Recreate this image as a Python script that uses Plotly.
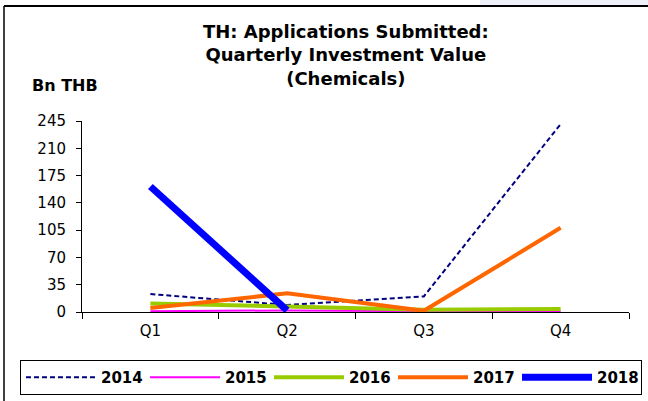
import plotly.graph_objects as go

quarters = ["Q1", "Q2", "Q3", "Q4"]
v2014 = [23, 9, 20, 241]
v2015 = [1, 2, 1, 1]
v2016 = [11, 7, 3, 4]
v2017 = [5, 24, 1.5, 108]
v2018 = [161, 2, None, None]
y_ticks = [0, 35, 70, 105, 140, 175, 210, 245]

W, H = 648, 401
L, R, T, B = 82, 19, 121, 89
pw, ph = W - L - R, H - T - B
FONT = "DejaVu Sans, Arial, sans-serif"


def px2x(p):
    return (p - L) / pw


def py2y(p):
    return (H - B - p) / ph


fig = go.Figure()
series = [
    ("2014", v2014, dict(color="#000080", width=2, dash="5px,3px")),
    ("2015", v2015, dict(color="#FF00FF", width=2)),
    ("2016", v2016, dict(color="#99CC00", width=4)),
    ("2017", v2017, dict(color="#FF6600", width=4)),
    ("2018", v2018, dict(color="#0000FF", width=7)),
]
for name, vals, line in series:
    fig.add_trace(go.Scatter(x=quarters, y=vals, name=name, mode="lines", line=line))

fig.update_layout(
    width=W, height=H,
    margin=dict(l=L, r=R, t=T, b=B, autoexpand=False),
    paper_bgcolor="white", plot_bgcolor="white",
    font=dict(family=FONT, size=15, color="black"),
    showlegend=True,
    legend=dict(
        orientation="h", x=px2x(20), xanchor="left", y=py2y(360), yanchor="top",
        bordercolor="black", borderwidth=1,
        font=dict(size=15, family=FONT, weight="bold"),
        entrywidth=39, itemwidth=70, traceorder="normal",
    ),
    xaxis=dict(
        type="category", showgrid=False, showline=True, linecolor="black", linewidth=1,
        ticks="outside", tickson="boundaries", ticklen=6, tickcolor="black",
        range=[-0.5, 3.5], zeroline=False, tickfont=dict(size=15), ticklabelstandoff=5,
    ),
    yaxis=dict(
        range=[0, 245], tickvals=y_ticks, showgrid=False, showline=True, linecolor="black",
        linewidth=1, ticks="outside", ticklen=5, tickcolor="black", zeroline=False,
        tickfont=dict(size=15), ticklabelstandoff=7,
    ),
)

fig.add_annotation(
    text="TH: Applications Submitted:<br>Quarterly Investment Value<br>(Chemicals)",
    xref="paper", yref="paper", x=px2x(346), y=py2y(55), xanchor="center", yanchor="middle",
    showarrow=False, font=dict(size=18, weight="bold"),
)
fig.add_annotation(
    text="Bn THB", xref="paper", yref="paper", x=px2x(30), y=py2y(85),
    xanchor="left", yanchor="middle", showarrow=False, font=dict(size=16, weight="bold"),
)
# faint strip at top right
fig.add_shape(type="rect", xref="paper", yref="paper", x0=px2x(480), x1=px2x(648),
              y0=py2y(5), y1=py2y(0), line=dict(width=0), fillcolor="#eef0f8", layer="below")
# outer frame lines
fig.add_shape(type="line", xref="paper", yref="paper", x0=px2x(4), x1=px2x(648),
              y0=py2y(6), y1=py2y(6), line=dict(color="black", width=2))
fig.add_shape(type="line", xref="paper", yref="paper", x0=px2x(4), x1=px2x(4),
              y0=py2y(6), y1=py2y(401), line=dict(color="black", width=1.5))

fig.write_html("out.html", config={"displayModeBar": False},
               post_script="document.body.style.margin='0';")
